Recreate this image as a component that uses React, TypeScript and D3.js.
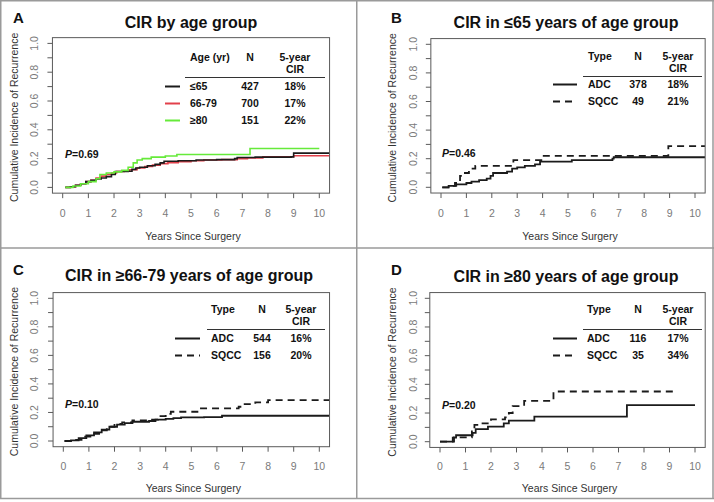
import React from 'react';
import * as d3 from 'd3';

const W = 714;
const H = 502;
const FONT = '"Liberation Sans", Arial, Helvetica, sans-serif';

// ---------- data ----------
const panelLetters = ['A', 'B', 'C', 'D'];
const panelTitles = [
  'CIR by age group',
  'CIR in ≤65 years of age group',
  'CIR in ≥66-79 years of age group',
  'CIR in ≥80 years of age group',
];
const pValues = ['0.69', '0.46', '0.10', '0.20'];

const xTicks = [0, 1, 2, 3, 4, 5, 6, 7, 8, 9, 10];
const yTicks = [0, 0.1, 0.2, 0.3, 0.4, 0.5, 0.6, 0.7, 0.8, 0.9, 1.0];
const yLabelTicks = [0, 0.2, 0.4, 0.6, 0.8, 1.0];

const legendHeadA = ['Age (yr)', 'N', '5-year', 'CIR'];
const legendHeadType = ['Type', 'N', '5-year', 'CIR'];

const ageGroups = ['≤65', '66-79', '≥80'];
const ageN = ['427', '700', '151'];
const ageCIR = ['18%', '17%', '22%'];

const histTypes = ['ADC', 'SQCC'];
const nB = ['378', '49'];
const cirB = ['18%', '21%'];
const nC = ['544', '156'];
const cirC = ['16%', '20%'];
const nD = ['116', '35'];
const cirD = ['17%', '34%'];

type Pt = [number, number];

// Panel A curves (years, cumulative incidence)
const aLe65: Pt[] = [[0.1, 0], [0.3, 0.005], [0.5, 0.015], [0.7, 0.025], [0.9, 0.04], [1.1, 0.05], [1.3, 0.058], [1.5, 0.065], [1.7, 0.075], [1.9, 0.09], [2.05, 0.11], [2.55, 0.112], [2.7, 0.125], [2.85, 0.135], [3.0, 0.14], [3.3, 0.15], [3.6, 0.16], [3.8, 0.17], [3.95, 0.182], [4.5, 0.185], [5.2, 0.19], [6.0, 0.193], [6.7, 0.2], [6.8, 0.208], [7.5, 0.21], [8.9, 0.212], [9.0, 0.238], [10.4, 0.238]];
const a66to79: Pt[] = [[0.1, 0], [0.3, 0.005], [0.5, 0.015], [0.7, 0.025], [0.9, 0.04], [1.1, 0.05], [1.3, 0.065], [1.5, 0.078], [1.7, 0.09], [1.9, 0.1], [2.1, 0.11], [2.4, 0.115], [2.6, 0.123], [2.9, 0.135], [3.2, 0.145], [3.5, 0.155], [3.8, 0.165], [4.1, 0.172], [4.5, 0.178], [5.0, 0.185], [5.5, 0.19], [6.2, 0.193], [6.8, 0.2], [7.2, 0.205], [7.8, 0.213], [9.0, 0.22], [10.4, 0.222]];
const aGe80: Pt[] = [[0.1, 0], [0.4, 0.01], [0.7, 0.025], [1.0, 0.04], [1.3, 0.06], [1.45, 0.09], [1.7, 0.1], [2.0, 0.108], [2.3, 0.118], [2.55, 0.14], [2.75, 0.17], [2.9, 0.19], [3.1, 0.2], [3.45, 0.21], [4.0, 0.218], [4.45, 0.228], [7.3, 0.27], [10.0, 0.27]];

// Panel B
const bADC: Pt[] = [[0.05, 0], [0.3, 0.01], [0.6, 0.02], [1.0, 0.03], [1.2, 0.04], [1.5, 0.05], [1.8, 0.06], [1.95, 0.08], [2.05, 0.1], [2.6, 0.11], [2.8, 0.13], [3.0, 0.14], [3.3, 0.15], [3.7, 0.16], [3.9, 0.18], [5.15, 0.19], [6.75, 0.2], [6.8, 0.21], [10.4, 0.21]];
const bSQCC: Pt[] = [[0.05, 0], [0.35, 0.01], [0.55, 0.03], [0.75, 0.08], [0.9, 0.1], [1.1, 0.13], [1.35, 0.15], [2.85, 0.19], [3.95, 0.22], [8.95, 0.288], [10.4, 0.288]];

// Panel C
const cADC: Pt[] = [[0.05, 0], [0.3, 0.005], [0.6, 0.02], [0.9, 0.04], [1.2, 0.06], [1.5, 0.08], [1.8, 0.1], [2.1, 0.115], [2.4, 0.125], [2.7, 0.135], [3.35, 0.14], [3.6, 0.15], [4.0, 0.155], [4.3, 0.16], [4.6, 0.165], [5.5, 0.168], [6.2, 0.177], [10.4, 0.177]];
const cSQCC: Pt[] = [[0.05, 0], [0.5, 0.008], [0.8, 0.03], [1.1, 0.05], [1.4, 0.075], [1.7, 0.1], [2.0, 0.12], [2.3, 0.13], [2.7, 0.145], [3.4, 0.15], [3.7, 0.175], [4.0, 0.19], [4.2, 0.205], [5.3, 0.228], [6.85, 0.24], [7.0, 0.258], [7.5, 0.27], [8.0, 0.287], [10.4, 0.287]];

// Panel D
const dADC: Pt[] = [[0, 0], [0.5, 0.028], [0.63, 0.045], [1.28, 0.062], [1.4, 0.088], [1.88, 0.105], [2.5, 0.128], [2.7, 0.147], [3.7, 0.175], [7.33, 0.255], [10, 0.255]];
const dSQCC: Pt[] = [[0, 0], [0.55, 0.03], [1.25, 0.08], [1.35, 0.117], [1.5, 0.128], [2.0, 0.155], [2.55, 0.17], [2.7, 0.2], [2.85, 0.248], [3.3, 0.285], [4.45, 0.35], [9.3, 0.35]];

// ---------- layout ----------
type Series = { data: Pt[]; color: string; dash?: string; width: number };
type Cfg = {
  idx: number;
  letterX: number; letterY: number;
  titleX: number; titleY: number;
  x0: number; x10: number; y0: number; y1: number;
  yTitleX: number; yLabX: number; xLabY: number; xTitleY: number;
  head: string[]; headLeft: number; nX: number; cirX: number; headY: number; cirY: number;
  ruleY: number; ruleX1: number; ruleX2: number; rowYs: number[];
  swX1: number; swX2: number;
  rowLabels: string[]; rowN: string[]; rowCIR: string[];
  pX: number; pY: number;
  series: Series[];
};

const BLACK = '#1b1b1b';
const RED = '#e2404b';
const GREEN = '#66ea3a';

const panels: Cfg[] = [
  {
    idx: 0, letterX: 13, letterY: 23, titleX: 191, titleY: 28,
    x0: 62.7, x10: 319.3, y0: 187.4, y1: 43.4,
    yTitleX: 14, yLabX: 34, xLabY: 217, xTitleY: 240,
    head: legendHeadA, headLeft: 190, nX: 250, cirX: 295, headY: 61, cirY: 73,
    ruleY: 77.5, ruleX1: 185, ruleX2: 325, rowYs: [90, 107, 124],
    swX1: 165, swX2: 180,
    rowLabels: ageGroups, rowN: ageN, rowCIR: ageCIR,
    pX: 65, pY: 158,
    series: [
      { data: a66to79, color: RED, width: 1.6 },
      { data: aLe65, color: BLACK, width: 1.6 },
      { data: aGe80, color: GREEN, width: 1.6 },
    ],
  },
  {
    idx: 1, letterX: 391, letterY: 23, titleX: 566, titleY: 28,
    x0: 441, x10: 695, y0: 187.3, y1: 44.3,
    yTitleX: 392, yLabX: 413, xLabY: 217, xTitleY: 240,
    head: legendHeadType, headLeft: 588, nX: 638, cirX: 678, headY: 60, cirY: 72,
    ruleY: 76.5, ruleX1: 583, ruleX2: 702, rowYs: [88, 105],
    swX1: 553, swX2: 577,
    rowLabels: histTypes, rowN: nB, rowCIR: cirB,
    pX: 442, pY: 157,
    series: [
      { data: bADC, color: BLACK, width: 1.8 },
      { data: bSQCC, color: BLACK, width: 1.8, dash: '7,5' },
    ],
  },
  {
    idx: 2, letterX: 13, letterY: 275, titleX: 189, titleY: 281,
    x0: 63.3, x10: 319.3, y0: 441, y1: 298.3,
    yTitleX: 14, yLabX: 34, xLabY: 470, xTitleY: 492,
    head: legendHeadType, headLeft: 211, nX: 262, cirX: 301, headY: 313, cirY: 324.5,
    ruleY: 329.5, ruleX1: 207, ruleX2: 325, rowYs: [342, 359],
    swX1: 175, swX2: 200,
    rowLabels: histTypes, rowN: nC, rowCIR: cirC,
    pX: 65, pY: 408,
    series: [
      { data: cADC, color: BLACK, width: 1.8 },
      { data: cSQCC, color: BLACK, width: 1.8, dash: '7,5' },
    ],
  },
  {
    idx: 3, letterX: 391, letterY: 275, titleX: 566, titleY: 282,
    x0: 440, x10: 695, y0: 441.7, y1: 298.3,
    yTitleX: 392, yLabX: 413, xLabY: 470, xTitleY: 492,
    head: legendHeadType, headLeft: 587, nX: 638, cirX: 678, headY: 313, cirY: 324.5,
    ruleY: 329.5, ruleX1: 583, ruleX2: 702, rowYs: [342, 359],
    swX1: 553, swX2: 577,
    rowLabels: histTypes, rowN: nD, rowCIR: cirD,
    pX: 442, pY: 409,
    series: [
      { data: dADC, color: BLACK, width: 1.8 },
      { data: dSQCC, color: BLACK, width: 1.8, dash: '7,5' },
    ],
  },
];

const AXIS = '#5a5a5a';
const TICKTXT = '#7a7a7a';

function Panel({ cfg }: { cfg: Cfg }) {
  const x = d3.scaleLinear().domain([0, 10]).range([cfg.x0, cfg.x10]);
  const y = d3.scaleLinear().domain([0, 1]).range([cfg.y0, cfg.y1]);
  const line = d3
    .line<Pt>()
    .x((d) => x(d[0]))
    .y((d) => y(d[1]))
    .curve(d3.curveStepAfter);
  const bx1 = x(-0.4);
  const bx2 = x(10.4);
  const by1 = y(1.04);
  const by2 = y(-0.04);
  const tl = 5;
  const clipId = `clip${cfg.idx}`;
  return (
    <g fontFamily={FONT}>
      <text x={cfg.letterX} y={cfg.letterY} fontSize={15} fontWeight="bold" fill="#111">
        {panelLetters[cfg.idx]}
      </text>
      <text x={cfg.titleX} y={cfg.titleY} fontSize={16} fontWeight="bold" textAnchor="middle" fill="#111">
        {panelTitles[cfg.idx]}
      </text>
      <defs>
        <clipPath id={clipId}>
          <rect x={bx1} y={by1} width={bx2 - bx1} height={by2 - by1} />
        </clipPath>
      </defs>
      {/* curves */}
      <g clipPath={`url(#${clipId})`}>
        {cfg.series.map((s, i) => (
          <path
            key={i}
            d={line(s.data) || ''}
            fill="none"
            stroke={s.color}
            strokeWidth={s.width}
            strokeDasharray={s.dash}
          />
        ))}
      </g>
      {/* box */}
      <rect x={bx1} y={by1} width={bx2 - bx1} height={by2 - by1} fill="none" stroke={AXIS} strokeWidth={1} />
      {/* x axis */}
      {xTicks.map((t) => (
        <g key={`xt${t}`}>
          <line x1={x(t)} x2={x(t)} y1={by2} y2={by2 + tl} stroke={AXIS} strokeWidth={1} />
          <text x={x(t)} y={cfg.xLabY} fontSize={10.5} textAnchor="middle" fill={TICKTXT}>
            {t}
          </text>
        </g>
      ))}
      <text x={(bx1 + bx2) / 2 + 2} y={cfg.xTitleY} fontSize={10.5} textAnchor="middle" fill="#333">
        Years Since Surgery
      </text>
      {/* y axis */}
      {yTicks.map((t) => (
        <line key={`yt${t}`} x1={bx1 - tl} x2={bx1} y1={y(t)} y2={y(t)} stroke={AXIS} strokeWidth={1} />
      ))}
      {yLabelTicks.map((t) => (
        <text
          key={`yl${t}`}
          transform={`translate(${cfg.yLabX},${y(t)}) rotate(-90)`}
          fontSize={10.5}
          textAnchor="middle"
          dy="0.35em"
          fill={TICKTXT}
        >
          {d3.format('.1f')(t)}
        </text>
      ))}
      <text
        transform={`translate(${cfg.yTitleX},${(by1 + by2) / 2 + 2}) rotate(-90)`}
        fontSize={10.5}
        textAnchor="middle"
        dy="0.35em"
        fill="#333"
      >
        Cumulative Incidence of Recurrence
      </text>
      {/* legend table */}
      <g fontWeight="bold" fontSize={10.5} fill="#111">
        <text x={cfg.headLeft} y={cfg.headY}>{cfg.head[0]}</text>
        <text x={cfg.nX} y={cfg.headY} textAnchor="middle">{cfg.head[1]}</text>
        <text x={cfg.cirX} y={cfg.headY} textAnchor="middle">{cfg.head[2]}</text>
        <text x={cfg.cirX} y={cfg.cirY} textAnchor="middle">{cfg.head[3]}</text>
        {cfg.rowLabels.map((lab, i) => (
          <g key={lab}>
            <line
              x1={cfg.swX1}
              x2={cfg.swX2}
              y1={cfg.rowYs[i] - 3.5}
              y2={cfg.rowYs[i] - 3.5}
              stroke={cfg.series.length === 3 ? [BLACK, RED, GREEN][i] : BLACK}
              strokeWidth={2}
              strokeDasharray={cfg.series.length === 3 ? undefined : cfg.series[i].dash}
            />
            <text x={cfg.headLeft} y={cfg.rowYs[i]}>{lab}</text>
            <text x={cfg.nX} y={cfg.rowYs[i]} textAnchor="middle">{cfg.rowN[i]}</text>
            <text x={cfg.cirX} y={cfg.rowYs[i]} textAnchor="middle">{cfg.rowCIR[i]}</text>
          </g>
        ))}
      </g>
      <line x1={cfg.ruleX1} x2={cfg.ruleX2} y1={cfg.ruleY} y2={cfg.ruleY} stroke="#333" strokeWidth={1} />
      <text x={cfg.pX} y={cfg.pY} fontSize={10.5} fontWeight="bold" fill="#111">
        <tspan fontStyle="italic">P</tspan>={pValues[cfg.idx]}
      </text>
    </g>
  );
}

export default function App() {
  const frame = '#9a9a9a';
  return (
    <svg
      width={W}
      height={H}
      viewBox={`0 0 ${W} ${H}`}
      style={{ position: 'absolute', left: 0, top: 0, background: '#fff' }}
    >
      <rect x={0} y={0} width={W} height={H} fill="#fff" />
      {/* panel frames */}
      <line x1={0.75} x2={0.75} y1={0} y2={499} stroke={frame} strokeWidth={1.5} />
      <line x1={356.75} x2={356.75} y1={0} y2={499} stroke={frame} strokeWidth={1.5} />
      <line x1={713} x2={713} y1={0} y2={499} stroke={frame} strokeWidth={1.5} />
      <line x1={0} x2={714} y1={0.75} y2={0.75} stroke={frame} strokeWidth={1.5} />
      <line x1={0} x2={714} y1={248} y2={248} stroke={frame} strokeWidth={1.5} />
      <line x1={0} x2={714} y1={498.5} y2={498.5} stroke={frame} strokeWidth={1.5} />
      {panels.map((p) => (
        <Panel key={p.idx} cfg={p} />
      ))}
    </svg>
  );
}
